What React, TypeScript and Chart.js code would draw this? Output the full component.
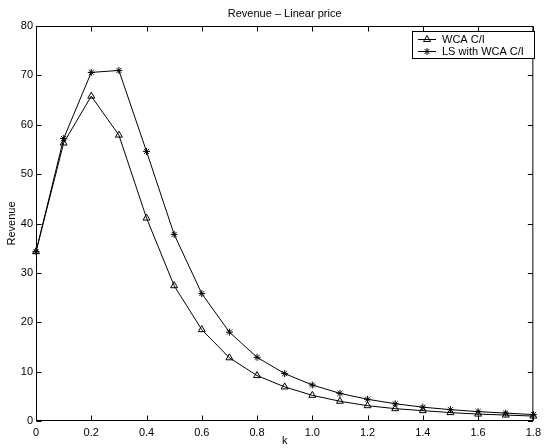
import React, { useEffect, useRef } from "react";
import { Chart, registerables } from "chart.js";

Chart.register(...registerables);

const kValues = [0, 0.1, 0.2, 0.3, 0.4, 0.5, 0.6, 0.7, 0.8, 0.9, 1.0, 1.1, 1.2, 1.3, 1.4, 1.5, 1.6, 1.7, 1.8];
const wcaRevenue = [34.3, 56.3, 65.8, 57.9, 41.1, 27.4, 18.5, 12.8, 9.2, 6.9, 5.2, 4.0, 3.1, 2.5, 2.1, 1.7, 1.4, 1.2, 1.0];
const lsRevenue = [34.3, 57.2, 70.6, 71.0, 54.6, 37.8, 25.8, 18.0, 12.9, 9.6, 7.3, 5.6, 4.4, 3.5, 2.8, 2.3, 1.9, 1.6, 1.3];
const seriesNames = ["WCA C/I", "LS with WCA C/I"];
const seriesMarkers = ["triangle", "star"];
const titleText = "Revenue \u2013 Linear price";
const xTitle = "k";
const yTitle = "Revenue";

const FONT = "'Liberation Sans', Arial, Helvetica, sans-serif";

function drawMarker(ctx: CanvasRenderingContext2D, style: string, x: number, y: number, r: number) {
  ctx.beginPath();
  if (style === "triangle") {
    for (let i = 0; i < 3; i++) {
      const a = (i * 2 * Math.PI) / 3;
      const px = x + Math.sin(a) * r;
      const py = y - Math.cos(a) * r;
      if (i === 0) ctx.moveTo(px, py);
      else ctx.lineTo(px, py);
    }
    ctx.closePath();
  } else {
    for (let i = 0; i < 4; i++) {
      const a = (i * Math.PI) / 4;
      ctx.moveTo(x + Math.cos(a) * r, y + Math.sin(a) * r);
      ctx.lineTo(x - Math.cos(a) * r, y - Math.sin(a) * r);
    }
  }
  ctx.stroke();
}

const framePlugin = {
  id: "matlabFrame",
  beforeDatasetsDraw(chart: any) {
    const { ctx, chartArea: a, scales } = chart;
    const xs = scales.x;
    const ys = scales.y;
    ctx.save();
    ctx.strokeStyle = "#000";
    ctx.lineWidth = 1;
    const L = a.left + 0.5, R = a.right - 0.5, T = a.top + 0.5, B = a.bottom - 0.5;
    ctx.strokeRect(L, T, R - L, B - T);
    const tl = 5;
    ctx.beginPath();
    xs.ticks.forEach((t: any) => {
      const px = Math.round(xs.getPixelForValue(t.value)) + 0.5;
      ctx.moveTo(px, B);
      ctx.lineTo(px, B - tl);
      ctx.moveTo(px, T);
      ctx.lineTo(px, T + tl);
    });
    ys.ticks.forEach((t: any) => {
      const py = Math.round(ys.getPixelForValue(t.value)) + 0.5;
      ctx.moveTo(L, py);
      ctx.lineTo(L + tl, py);
      ctx.moveTo(R, py);
      ctx.lineTo(R - tl, py);
    });
    ctx.stroke();

    ctx.fillStyle = "#000";
    ctx.font = `11px ${FONT}`;
    ctx.textAlign = "center";
    ctx.textBaseline = "alphabetic";
    ctx.fillText(titleText, (a.left + a.right) / 2, 17);
    ctx.textBaseline = "middle";
    ctx.fillText(xTitle, (a.left + a.right) / 2, 441);
    ctx.save();
    ctx.translate(12, (a.top + a.bottom) / 2);
    ctx.rotate(-Math.PI / 2);
    ctx.fillText(yTitle, 0, 0);
    ctx.restore();
    ctx.restore();
  },
  afterDraw(chart: any) {
    const { ctx } = chart;
    ctx.save();
    const bx = 412.5, by = 31.5, bw = 122, bh = 27;
    ctx.fillStyle = "#fff";
    ctx.fillRect(bx, by, bw, bh);
    ctx.strokeStyle = "#000";
    ctx.lineWidth = 1;
    ctx.strokeRect(bx, by, bw, bh);
    ctx.font = `11px ${FONT}`;
    ctx.textAlign = "left";
    ctx.textBaseline = "middle";
    seriesNames.forEach((name, i) => {
      const ry = Math.round(by + 7.5 + i * 12) + 0.5;
      ctx.beginPath();
      ctx.moveTo(418, ry);
      ctx.lineTo(436, ry);
      ctx.stroke();
      drawMarker(ctx, seriesMarkers[i], 427, ry, i === 0 ? 4 : 3.5);
      ctx.fillStyle = "#000";
      ctx.fillText(name, 442, ry + 0.5);
    });
    ctx.restore();
  },
};

export default function App() {
  const ref = useRef<HTMLCanvasElement>(null);
  useEffect(() => {
    if (!ref.current) return;
    const mk = (vals: number[]) => kValues.map((k, i) => ({ x: k, y: vals[i] }));
    const chart = new Chart(ref.current, {
      type: "scatter",
      data: {
        datasets: [
          {
            label: seriesNames[0],
            data: mk(wcaRevenue),
            showLine: true,
            borderColor: "#000",
            borderWidth: 1,
            pointStyle: "triangle",
            pointRadius: 4,
            pointBorderWidth: 1,
            pointBorderColor: "#000",
            pointBackgroundColor: "rgba(0,0,0,0)",
            clip: false as any,
          },
          {
            label: seriesNames[1],
            data: mk(lsRevenue),
            showLine: true,
            borderColor: "#000",
            borderWidth: 1,
            pointStyle: "star",
            pointRadius: 3.5,
            pointBorderWidth: 1,
            pointBorderColor: "#000",
            pointBackgroundColor: "rgba(0,0,0,0)",
            clip: false as any,
          },
        ],
      },
      options: {
        animation: false,
        responsive: false,
        devicePixelRatio: 1,
        layout: { padding: { top: 26, right: 8, left: 0, bottom: 0 } },
        plugins: { legend: { display: false }, tooltip: { enabled: false }, title: { display: false } },
        scales: {
          x: {
            type: "linear",
            min: 0,
            max: 1.8,
            grid: { display: false, drawTicks: false },
            border: { display: false },
            ticks: { stepSize: 0.2, padding: 5, color: "#000", font: { family: FONT, size: 11 }, maxRotation: 0 },
            afterFit: (s: any) => { s.height = 27; },
          },
          y: {
            type: "linear",
            min: 0,
            max: 80,
            grid: { display: false, drawTicks: false },
            border: { display: false },
            ticks: { stepSize: 10, padding: 3, color: "#000", font: { family: FONT, size: 11 } },
            afterFit: (s: any) => { s.width = 36; },
          },
        },
      },
      plugins: [framePlugin],
    });
    return () => chart.destroy();
  }, []);
  return (
    <div style={{ position: "absolute", left: 0, top: 0, width: 546, height: 448, background: "#fff" }}>
      <canvas ref={ref} width={546} height={448} style={{ display: "block" }} />
    </div>
  );
}
